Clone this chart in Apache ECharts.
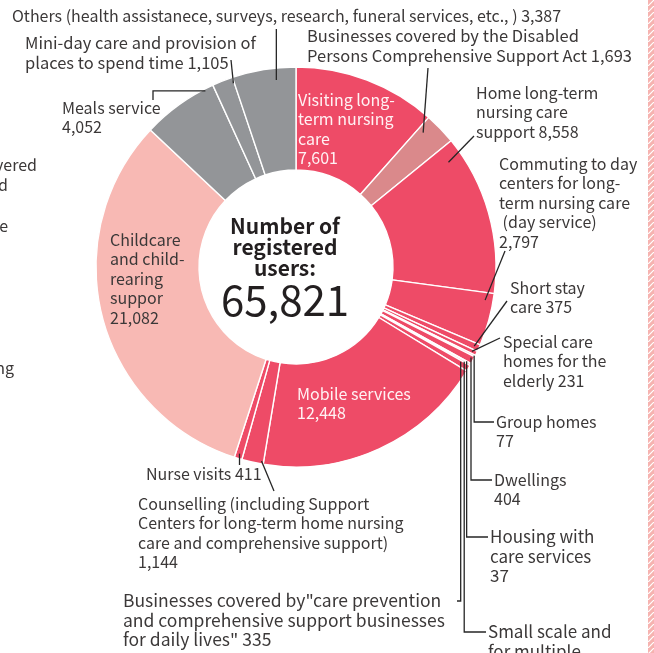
<!DOCTYPE html>
<html><head><meta charset="utf-8">
<script src="https://cdn.jsdelivr.net/npm/echarts@6/dist/echarts.min.js"></script>
<style>html,body{margin:0;padding:0;background:#fff}#c{width:654px;height:653px}</style>
</head><body><div id="c"></div>
<script>
// ---------- data ----------
const categories = [
  'Visiting long-term nursing care',
  'Businesses covered by the Disabled Persons Comprehensive Support Act',
  'Home long-term nursing care support',
  'Commuting to day centers for long-term nursing care (day service)',
  'Short stay care',
  'Special care homes for the elderly',
  'Group homes',
  'Dwellings',
  'Housing with care services',
  'Small scale and for multiple functions',
  'Businesses covered by "care prevention and comprehensive support businesses for daily lives"',
  'Mobile services',
  'Counselling (including Support Centers for long-term home nursing care and comprehensive support)',
  'Nurse visits',
  'Childcare and child-rearing support',
  'Meals service',
  'Mini-day care and provision of places to spend time',
  'Others (health assistance, surveys, research, funeral services, etc.)'
];
const values = [7601, 1693, 8558, 2797, 375, 231, 77, 404, 37, 84, 335, 12448, 1144, 411, 21082, 4052, 1105, 3387];
const labelTexts = [
  'Visiting long-\nterm nursing\ncare\n7,601',
  'Businesses covered by the Disabled\nPersons Comprehensive Support Act 1,693',
  'Home long-term\nnursing care\nsupport 8,558',
  'Commuting to day\ncenters for long-\nterm nursing care\n (day service)\n2,797',
  'Short stay\ncare 375',
  'Special care\nhomes for the\nelderly 231',
  'Group homes\n77',
  'Dwellings\n404',
  'Housing with\ncare services\n37',
  'Small scale and\nfor multiple\nfunctions 84',
  'Businesses covered by"care prevention\nand comprehensive support businesses\nfor daily lives" 335',
  'Mobile services\n12,448',
  'Counselling (including Support\nCenters for long-term home nursing\ncare and comprehensive support)\n1,144',
  'Nurse visits 411',
  'Childcare\nand child-\nrearing\nsuppor\n21,082',
  'Meals service\n4,052',
  'Mini-day care and provision of\nplaces to spend time 1,105',
  'Others (health assistanece, surveys, research, funeral services, etc., ) 3,387'
];
const centerTitle = 'Number of\nregistered\nusers:';
const centerTotal = '65,821';
const leftFragments = ['vered', 'd', 'e', 'ng'];

// ---------- styling / layout ----------
const RED = '#ee4b67', DUSTY = '#da898b', LIGHT = '#f8b9b4', GRAY = '#939598';
const sliceColors = [RED, DUSTY, RED, RED, RED, RED, RED, RED, RED, RED, RED, RED, RED, RED, LIGHT, GRAY, GRAY, GRAY];
const FONT = '"Noto Sans CJK JP", "Noto Sans", sans-serif';
const TXT = '#3b3838';
// label top-left positions
const labelBoxes = [
  [298, 90], [307, 26], [476, 83], [499, 154], [510, 278], [503, 332], [496, 412], [494, 470],
  [490, 527], [488, 622], [123, 591], [297, 384], [138, 494], [146, 464], [110, 230], [62, 98], [25, 33], [12, 6]
];
const labelFontSizes = {1: 16.5, 8: 17, 9: 17, 10: 17.5, 16: 16.5, 17: 16};
const insideIdx = [0, 11, 14];
const insideColors = {0: '#fff2f4', 11: '#fff2f4', 14: '#3b3838'};
// leader routing: f = fraction along slice, r = radius of start, type, e = end point near label
const leaders = {
  1: {f: .2, r: 185, t: 's', e: [428, 68]},
  2: {f: .1, r: 185, t: 's', e: [474, 136]},
  3: {f: .15, r: 192, t: 's', e: [505, 251]},
  4: {f: .5, r: 195, t: 's', e: [507, 301]},
  5: {f: .5, r: 195, t: 's', e: [500, 338]},
  6: {f: .5, r: 199, t: 'vh', e: [494, 422]},
  7: {f: .3, r: 197, t: 'vh', e: [492, 480]},
  8: {f: .3, r: 195, t: 'vh', e: [488, 537]},
  9: {f: .6, r: 193, t: 'vh', e: [486, 632]},
  10: {f: .2, r: 190, t: 'vh', e: [457, 601]},
  12: {f: .1, r: 197, t: 's', e: [274, 491]},
  13: {f: .5, r: 195, t: 'v', e: [0, 465]},
  15: {f: .88, r: 198, t: 'hv', e: [153, 100]},
  16: {f: .95, r: 194, t: 's', e: [231, 60]},
  17: {f: .676, r: 188, t: 'v', e: [0, 29]}
};

const chart = echarts.init(document.getElementById('c'), null, {renderer: 'canvas'});

const pieData = categories.map((name, i) => ({
  name: name,
  value: values[i],
  itemStyle: {color: sliceColors[i]},
  label: {color: insideIdx.includes(i) ? insideColors[i] : TXT, fontSize: labelFontSizes[i] || 16}
}));

// stripe pattern
const pc = document.createElement('canvas');
pc.width = 6; pc.height = 6;
const pctx = pc.getContext('2d');
pctx.fillStyle = '#f6b3b0'; pctx.fillRect(0, 0, 6, 6);
pctx.strokeStyle = '#ffffff'; pctx.lineWidth = 1.2;
pctx.beginPath(); pctx.moveTo(-1, 7); pctx.lineTo(7, -1); pctx.stroke();

const baseGraphics = [
  {type: 'rect', shape: {x: 648, y: 0, width: 6, height: 653}, style: {fill: {image: pc, repeat: 'repeat'}}, silent: true},
  {type: 'text', style: {text: centerTitle, x: 285, y: 216, align: 'center', verticalAlign: 'top',
    font: 'bold 21px ' + FONT, lineHeight: 21, fill: '#231f20'}},
  {type: 'text', style: {text: centerTotal, x: 285, y: 300, align: 'center', verticalAlign: 'middle',
    font: '42px ' + FONT, fill: '#231f20'}}
];
const fragPos = [[37, 165], [8, 185], [8, 226], [14, 368]];
leftFragments.forEach((t, i) => baseGraphics.push({type: 'text', style: {text: t, x: fragPos[i][0], y: fragPos[i][1],
  align: 'right', verticalAlign: 'middle', font: '16px ' + FONT, fill: TXT}}));

chart.setOption({
  animation: false,
  backgroundColor: '#fff',
  series: [{
    type: 'pie',
    center: [296, 267],
    radius: [97, 200],
    startAngle: 90,
    clockwise: true,
    avoidLabelOverlap: false,
    data: pieData,
    itemStyle: {borderColor: '#fff', borderWidth: 1.4},
    label: {
      show: true, position: 'outside',
      formatter: p => labelTexts[p.dataIndex],
      fontFamily: FONT, fontSize: 16, lineHeight: 19.5, color: TXT
    },
    labelLine: {show: false},
    labelLayout: p => ({x: labelBoxes[p.dataIndex][0], y: labelBoxes[p.dataIndex][1], align: 'left', verticalAlign: 'top'}),
    emphasis: {disabled: true}
  }],
  graphic: baseGraphics
});

// leader lines computed from the pie's own layout
const data = chart.getModel().getSeriesByIndex(0).getData();
const lines = [];
Object.keys(leaders).forEach(k => {
  const i = +k, L = leaders[k];
  const lay = data.getItemLayout(i);
  const a = lay.startAngle + L.f * (lay.endAngle - lay.startAngle);
  const P = [lay.cx + L.r * Math.cos(a), lay.cy + L.r * Math.sin(a)];
  let pts;
  if (L.t === 's') pts = [P, L.e];
  else if (L.t === 'v') pts = [P, [P[0], L.e[1]]];
  else if (L.t === 'vh') pts = [P, [P[0], L.e[1]], L.e];
  else pts = [P, [L.e[0], P[1]], L.e];
  lines.push({type: 'polyline', shape: {points: pts}, style: {stroke: '#262626', lineWidth: 1.3, fill: null}, silent: true, z: 10});
});
chart.setOption({graphic: baseGraphics.concat(lines)});
</script></body></html>
